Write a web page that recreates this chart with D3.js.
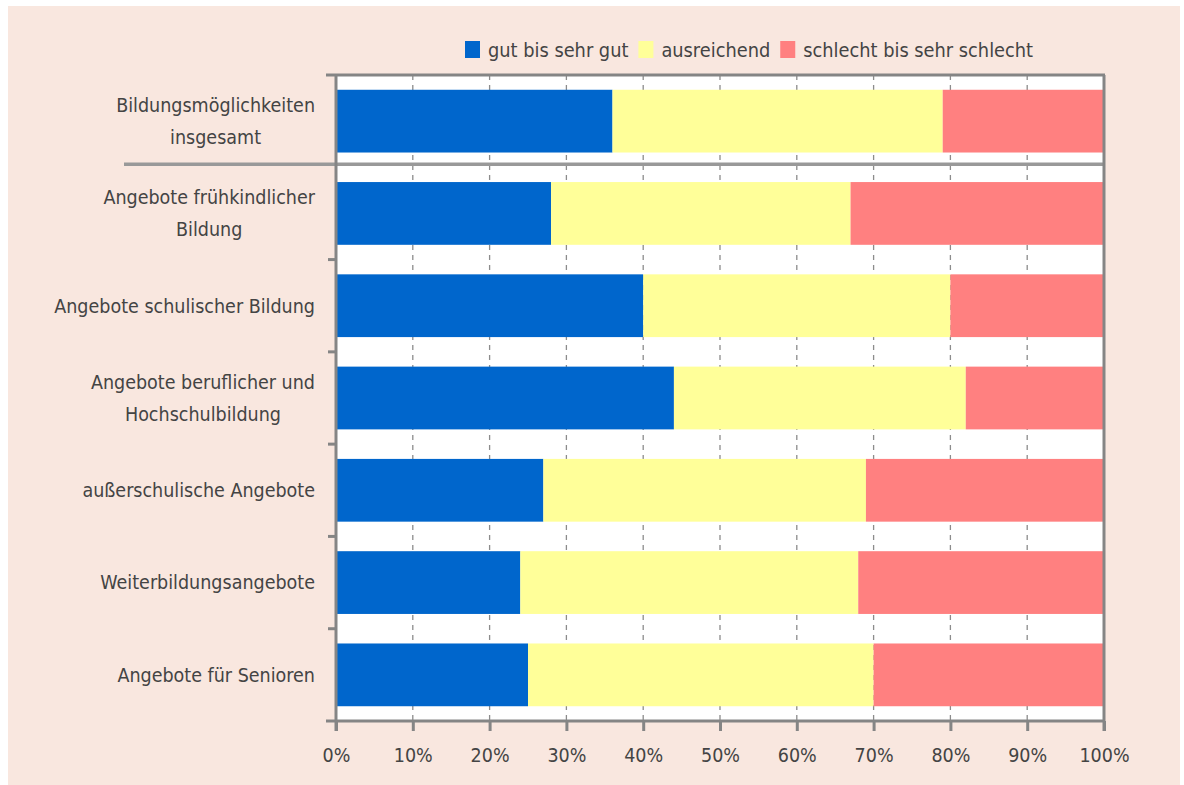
<!DOCTYPE html>
<html><head><meta charset="utf-8">
<script src="https://cdn.jsdelivr.net/npm/d3@7"></script>
<style>
html,body{margin:0;padding:0;background:#fff;}
svg{display:block;}
text{font-family:"Liberation Sans Narrow","DejaVu Sans Condensed","Open Sans",sans-serif;fill:#444;}
</style></head>
<body>
<svg id="chart" width="1184" height="785"></svg>
<script>
const categories = [
  "Bildungsmöglichkeiten\ninsgesamt",
  "Angebote frühkindlicher\nBildung",
  "Angebote schulischer Bildung",
  "Angebote beruflicher und\nHochschulbildung",
  "außerschulische Angebote",
  "Weiterbildungsangebote",
  "Angebote für Senioren"
];
const seriesNames = ["gut bis sehr gut", "ausreichend", "schlecht bis sehr schlecht"];
const gut = [36, 28, 40, 44, 27, 24, 25];
const ausreichend = [43, 39, 40, 38, 42, 44, 45];
const schlecht = [21, 33, 20, 18, 31, 32, 30];
const tickValues = [0, 10, 20, 30, 40, 50, 60, 70, 80, 90, 100];
const colors = ["#0066cc", "#ffff99", "#ff8080"];

const svg = d3.select("#chart");
const W = 1184, H = 785;
const L = 336, R = 1104, T = 75, B = 721;

// background panel
svg.append("rect").attr("x", 8).attr("y", 6).attr("width", 1172).attr("height", H - 6).attr("fill", "#f9e7df");
svg.append("rect").attr("x", L).attr("y", T).attr("width", R - L).attr("height", B - T).attr("fill", "#fff");

const x = d3.scaleLinear().domain([0, 100]).range([L, R]);
const y = d3.scaleBand().domain(categories).range([T, B]).paddingInner(0.32).paddingOuter(0.16);
const step = y.step();

// gridlines
svg.append("g").selectAll("line").data(tickValues.slice(1, -1)).join("line")
  .attr("x1", d => x(d)).attr("x2", d => x(d)).attr("y1", T).attr("y2", B)
  .attr("stroke", "#8c8c8c").attr("stroke-width", 1.3).attr("stroke-dasharray", "5,5");

// stacked data
const rows = categories.map((c, i) => ({cat: c, vals: [gut[i], ausreichend[i], schlecht[i]]}));
const g = svg.append("g");
rows.forEach(r => {
  let acc = 0;
  r.vals.forEach((v, k) => {
    g.append("rect")
      .attr("x", x(acc)).attr("width", x(acc + v) - x(acc))
      .attr("y", y(r.cat)).attr("height", y.bandwidth())
      .attr("fill", colors[k]);
    acc += v;
  });
});

// separator line between first and second row
const sepY = y(categories[1]) - step * 0.32 / 2 - 3;
svg.append("line").attr("x1", 124).attr("x2", R).attr("y1", sepY).attr("y2", sepY)
  .attr("stroke", "#999").attr("stroke-width", 3.5);

const axisColor = "#858585";
// top border
svg.append("line").attr("x1", 326).attr("x2", R + 1).attr("y1", T).attr("y2", T).attr("stroke", axisColor).attr("stroke-width", 3);
// right border
svg.append("line").attr("x1", R).attr("x2", R).attr("y1", T).attr("y2", B + 10).attr("stroke", axisColor).attr("stroke-width", 3);

// x axis
const xAxis = d3.axisBottom(x).tickValues(tickValues).tickFormat(d => d + "%").tickSize(10).tickPadding(17);
const xg = svg.append("g").attr("transform", `translate(0,${B})`).call(xAxis);
xg.select(".domain").remove();
xg.selectAll(".tick line").attr("stroke", axisColor).attr("stroke-width", 3);
xg.selectAll(".tick text").attr("font-size", 19.5).attr("fill", "#444")
  .style("font-family", '"Liberation Sans Narrow","DejaVu Sans Condensed",sans-serif');
svg.append("line").attr("x1", 326).attr("x2", R + 1).attr("y1", B).attr("y2", B).attr("stroke", axisColor).attr("stroke-width", 3);

// y axis line and ticks at row boundaries
svg.append("line").attr("x1", L).attr("x2", L).attr("y1", T).attr("y2", B + 10).attr("stroke", axisColor).attr("stroke-width", 3);
const bounds = categories.slice(2).map(c => y(c) - step * 0.32 / 2);
svg.append("g").selectAll("line").data(bounds).join("line")
  .attr("x1", L - 8).attr("x2", L).attr("y1", d => d).attr("y2", d => d)
  .attr("stroke", axisColor).attr("stroke-width", 3);

// category labels
const labelRight = 315, lineH = 32;
categories.forEach(c => {
  const lines = c.split("\n");
  const cy = y(c) + y.bandwidth() / 2;
  const t = svg.append("text").attr("font-size", 19.5).attr("text-anchor", "middle");
  lines.forEach((ln, i) => {
    t.append("tspan").attr("x", 0).attr("y", cy + (i - (lines.length - 1) / 2) * lineH).attr("dy", "0.35em").text(ln);
  });
  let maxW = 0;
  t.selectAll("tspan").each(function () {
    maxW = Math.max(maxW, this.getComputedTextLength());
  });
  t.selectAll("tspan").attr("x", labelRight - maxW / 2);
});

// legend
const legend = svg.append("g");
let lx = 465;
seriesNames.forEach((s, i) => {
  legend.append("rect").attr("x", lx).attr("y", 41).attr("width", 15).attr("height", 17).attr("fill", colors[i]);
  const t = legend.append("text").attr("x", lx + 23).attr("y", 50).attr("dy", "0.35em").attr("font-size", 19.8).text(s);
  lx += 23 + t.node().getComputedTextLength() + 10;
});
</script>
</body></html>
